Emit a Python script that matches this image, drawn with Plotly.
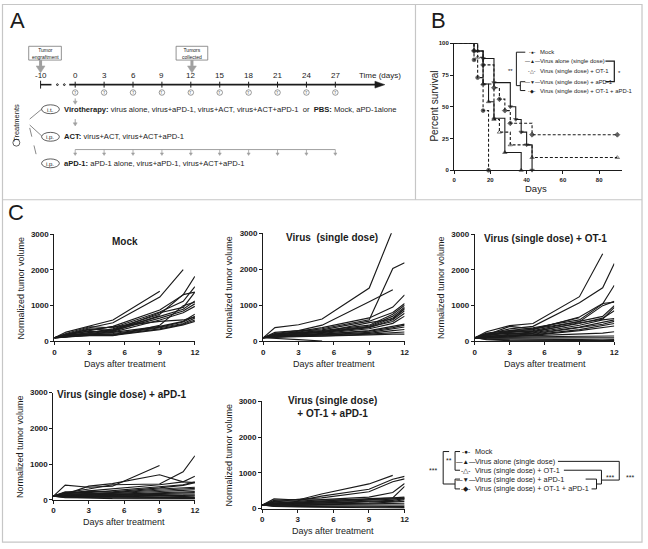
import plotly.graph_objects as go

W, H = 648, 549
FONT = "Liberation Sans, Arial, Helvetica, sans-serif"
INK = "#1b1b1b"
GREY = "#a0a0a0"
FRAME = "#c6c6c6"

# ---- panel A: treatment schedule
timeline_days = [-10, 0, 3, 6, 9, 12, 15, 18, 21, 24, 27]
apd1_dose_days = [0, 3, 6, 9, 12, 15, 18, 21, 24, 27]

# ---- panel B: survival (Kaplan-Meier steps)
group_names = [
    "Mock",
    "Virus alone (single dose)",
    "Virus (single dose) + OT-1",
    "Virus (single dose) + aPD-1",
    "Virus (single dose) + OT-1 + aPD-1",
]
mock_days = [0, 11, 13, 16, 19]
mock_surv = [100, 87, 73, 47, 0]
virus_days = [0, 13, 16, 19, 22, 28, 37]
virus_surv = [100, 94, 68, 54, 41, 14, 0]
ot1_days = [0, 13, 16, 22, 25, 31, 43, 90]
ot1_surv = [100, 89, 68, 40, 30, 20, 10, 10]
apd1_days = [0, 11, 16, 22, 31, 34, 37, 40, 43]
apd1_surv = [100, 94, 88, 69, 50, 40, 30, 20, 0]
combo_days = [0, 11, 16, 22, 25, 28, 31, 43, 90]
combo_surv = [100, 94, 83, 65, 56, 47, 37, 28, 28]

# ---- panel C: normalized tumour volume per mouse
tumor_days = [0, 1, 3, 5, 9, 11, 12]
mock_vol = [
    [100, 260, 430, 600, 1400, None, None],
    [100, 200, 380, 520, 1240, 2010, None],
    [100, 180, 300, 420, 880, 1300, 1820],
    [100, 220, 410, 380, 820, 1120, 1530],
    [100, 150, 260, 350, 760, 1310, 1380],
    [100, 170, 240, 330, 700, 900, 1130],
    [100, 160, 220, 300, 650, 850, 1050],
    [100, 190, 280, 260, 600, 800, 980],
    [100, 140, 200, 250, 420, 560, 760],
    [100, 130, 180, 220, 400, 540, 700],
    [100, 160, 210, 200, 380, 500, 650],
    [100, 150, 190, 180, 350, 480, 600],
    [100, 120, 170, 170, 330, 460, 560],
    [100, 140, 160, 160, 450, 1000, 1100],
    [100, 180, 350, 300, 800, 950, 1380],
    [100, 130, 200, 280, 720, None, None],
    [100, 200, 330, 400, 560, 600, 680],
]
virus_vol = [
    [100, 380, 460, 620, 1480, 3100, None],
    [100, 250, 300, 450, 1100, 1430, None],
    [100, 200, 260, 350, 600, 2020, 2180],
    [100, 180, 280, 380, 650, 950, 1290],
    [100, 220, 300, 320, 560, 800, 1050],
    [100, 160, 250, 300, 450, 750, 1000],
    [100, 170, 230, 280, 420, 700, 950],
    [100, 150, 200, 260, 400, 650, 900],
    [100, 190, 240, 250, 380, 600, 850],
    [100, 140, 210, 240, 400, 550, 780],
    [100, 130, 180, 220, 350, 500, 700],
    [100, 160, 190, 200, 300, 420, 480],
    [100, 120, 170, 190, 280, 380, 450],
    [100, 110, 160, 180, 250, 350, 400],
    [100, 140, 150, 170, 220, 300, 330],
    [100, 130, 140, 150, 200, 250, 260],
    [100, 120, 130, 140, 180, 200, 200],
    [100, 90, 50, 10, None, None, None],
    [100, 200, 230, 260, 520, 620, 920],
]
ot1_vol = [
    [100, 270, 440, 500, 1250, 2450, None],
    [100, 200, 350, 420, 1080, 1500, 2180],
    [100, 230, 300, 380, 600, 1050, 1570],
    [100, 180, 420, 350, 550, 1000, 1120],
    [100, 160, 300, 330, 680, 1060, 1100],
    [100, 210, 250, 300, 560, 700, 1000],
    [100, 150, 280, 280, 500, 650, 860],
    [100, 190, 220, 260, 520, 620, 950],
    [100, 140, 200, 240, 450, 600, 640],
    [100, 170, 230, 220, 400, 520, 600],
    [100, 130, 180, 200, 380, 480, 560],
    [100, 120, 160, 180, 330, 450, 500],
    [100, 150, 170, 170, 300, 400, 430],
    [100, 110, 140, 150, 200, 230, 270],
    [100, 100, 120, 130, 140, 150, 150],
    [100, 90, 100, 100, 90, 100, 100],
    [100, 80, 70, 60, 40, 40, 50],
    [100, 60, 40, 30, 20, 20, 20],
    [100, 50, 20, 10, 5, 5, 5],
    [100, 200, 250, 350, 660, None, None],
]
apd1_vol = [
    [100, 410, 350, 380, 960, None, None],
    [100, 200, 300, 420, 440, 780, 1230],
    [100, 150, 380, 450, 700, 500, 480],
    [100, 180, 250, 300, 420, 500, 660],
    [100, 220, 200, 260, 380, 420, 500],
    [100, 160, 240, 220, 330, 400, 480],
    [100, 140, 180, 200, 300, 330, 350],
    [100, 170, 160, 190, 260, 300, 320],
    [100, 130, 150, 170, 230, 260, 280],
    [100, 120, 140, 150, 200, 220, 230],
    [100, 110, 120, 140, 180, 190, 200],
    [100, 150, 130, 120, 150, 160, 160],
    [100, 100, 110, 110, 120, 120, 130],
    [100, 90, 100, 90, 80, 90, 100],
    [100, 80, 80, 70, 60, 60, 60],
    [100, 70, 60, 50, 40, 40, 40],
    [100, 60, 50, 30, 20, 20, 20],
    [100, 200, 180, 160, 140, 90, 50],
]
combo_vol = [
    [100, 270, 240, 410, 690, 930, None],
    [100, 200, 220, 350, 540, 820, 900],
    [100, 180, 260, 300, 470, 750, 830],
    [100, 150, 200, 250, 320, 450, 700],
    [100, 160, 180, 220, 280, 300, 620],
    [100, 230, 250, 240, 260, 300, 320],
    [100, 140, 160, 180, 230, 260, 300],
    [100, 120, 150, 160, 200, 230, 280],
    [100, 130, 140, 150, 180, 200, 250],
    [100, 110, 120, 130, 150, 170, 200],
    [100, 100, 110, 110, 130, 140, 150],
    [100, 90, 90, 100, 110, 100, 100],
    [100, 80, 80, 70, 60, 60, 60],
    [100, 70, 60, 50, 40, 30, 30],
    [100, 60, 50, 40, 30, 20, 10],
    [100, 150, 170, 200, 250, 270, 290],
]
panel_titles = [
    "Mock",
    "Virus  (single dose)",
    "Virus (single dose) + OT-1",
    "Virus (single dose) + aPD-1",
    "Virus (single dose)<br>+ OT-1 + aPD-1",
]


# pixel -> paper helpers
def fx(x):
    return x / W


def fy(y):
    return 1 - y / H


shapes = []
annotations = []


def note(x, y, text, size, xa="center", ya="middle", bold=False, angle=0, color=INK):
    annotations.append(dict(
        x=fx(x), y=fy(y), xref="paper", yref="paper", text=text, showarrow=False,
        xanchor=xa, yanchor=ya, textangle=angle, borderpad=0,
        font=dict(family=FONT, size=size, color=color, weight="bold" if bold else "normal"),
    ))


def seg(x0, y0, x1, y1, color=INK, width=1, dash="solid"):
    shapes.append(dict(type="line", xref="paper", yref="paper",
                       x0=fx(x0), y0=fy(y0), x1=fx(x1), y1=fy(y1),
                       line=dict(color=color, width=width, dash=dash)))


def poly(points, color=INK, width=1, fill=None, closed=False):
    d = "M" + " L".join(f"{fx(x):.5f},{fy(y):.5f}" for x, y in points)
    if closed:
        d += " Z"
    shapes.append(dict(type="path", xref="paper", yref="paper", path=d,
                       line=dict(color=color, width=width),
                       fillcolor=fill if fill else "rgba(0,0,0,0)"))


def oval(x0, y0, x1, y1, color=INK, width=0.8):
    shapes.append(dict(type="circle", xref="paper", yref="paper",
                       x0=fx(x0), y0=fy(y0), x1=fx(x1), y1=fy(y1),
                       line=dict(color=color, width=width)))


def box(x0, y0, x1, y1, color="#777", width=0.8):
    shapes.append(dict(type="rect", xref="paper", yref="paper",
                       x0=fx(x0), y0=fy(y0), x1=fx(x1), y1=fy(y1),
                       line=dict(color=color, width=width)))


def down_arrow(x, y0, y1, color=GREY, width=1, head=2):
    seg(x, y0, x, y1 - head, color, width)
    poly([(x - head, y1 - head * 1.6), (x + head, y1 - head * 1.6), (x, y1)],
         color=color, width=0.5, fill=color, closed=True)


# ---------------- frames
poly([(0.5, 0.5), (647, 0.5), (647, 547), (0.5, 547)], color=FRAME, width=1.2, closed=True)
seg(0, 199, 647, 199, FRAME, 1.2)
seg(418, 0, 418, 199, FRAME, 1.2)

note(7, 17, "A", 22, xa="left")
note(433, 17, "B", 22, xa="left")
note(5, 212, "C", 22, xa="left")

# ---------------- panel A drawing
TL_Y = 82
TL_X0, TL_STEP = 74, 9.74


def tl_x(day):
    return 39 if day < 0 else TL_X0 + day * TL_STEP


seg(39, TL_Y, 50, TL_Y, INK, 1.6)
for dx in (56, 63):
    oval(dx - 0.9, TL_Y - 0.9, dx + 0.9, TL_Y + 0.9, INK, 1)
seg(68, TL_Y, 378, TL_Y, INK, 1.6)
poly([(377, TL_Y - 3.5), (387, TL_Y), (377, TL_Y + 3.5)], INK, 0.5, INK, True)
note(404, 73, "Time (days)", 8, xa="right")
for d in timeline_days:
    x = tl_x(d)
    if d < 0:
        seg(x, TL_Y - 4, x, TL_Y + 4, INK, 1)
    else:
        seg(x, TL_Y - 3, x, TL_Y + 3, INK, 1)
        oval(x - 2.8, 87.2, x + 2.8, 92.8, "#555", 0.6)
        note(x, 90.3, "T", 4, color="#555")
    note(x, 73, str(d), 8)

box(27, 43, 60, 57)
note(43.5, 50, "Tumor<br>engraftment", 5)
poly([(39, 57), (39, 63)], GREY, 3)
poly([(34.5, 63), (43.5, 63), (39, 70)], GREY, 0.5, GREY, True)
box(176, 43, 208, 57)
note(192, 50, "Tumors<br>collected", 5)
poly([(192, 57), (192, 63)], GREY, 3)
poly([(187.5, 63), (196.5, 63), (192, 70)], GREY, 0.5, GREY, True)

note(14, 121, "Treatments", 7.5, angle=-90)
oval(11, 137.5, 18, 144.5, INK, 0.7)
seg(28, 117, 40, 107, "#555", 0.7)
seg(28, 123, 40, 134, "#555", 0.7)
seg(28, 126, 36, 159, "#555", 0.7, "dash")

rows = [
    (107, "i.t.", "<b>Virotherapy:</b> virus alone, virus+aPD-1, virus+ACT, virus+ACT+aPD-1  or  <b>PBS:</b> Mock, aPD-1alone"),
    (135, "i.p.", "<b>ACT:</b> virus+ACT, virus+ACT+aPD-1"),
    (162, "i.p.", "<b>aPD-1:</b> aPD-1 alone, virus+aPD-1, virus+ACT+aPD-1"),
]
for ry, tag, txt in rows:
    oval(40, ry - 4.5, 58, ry + 4.5, INK, 0.7)
    note(49, ry + 0.3, tag, 6)
    note(62, ry, txt, 7.6, xa="left")

down_arrow(tl_x(0), 96, 102)
down_arrow(tl_x(0), 117, 124)
seg(tl_x(0), 148, tl_x(27), 148, GREY, 1)
for d in apd1_dose_days:
    down_arrow(tl_x(d), 148, 154, GREY, 0.8, 1.6)

# ---------------- panel B
fig = go.Figure()

surv_sets = [
    (mock_days, mock_surv, "circle", "dash"),
    (virus_days, virus_surv, "triangle-up", "solid"),
    (ot1_days, ot1_surv, "triangle-up-open", "dash"),
    (apd1_days, apd1_surv, "triangle-down", "solid"),
    (combo_days, combo_surv, "diamond", "dash"),
]
for (dx, sy, sym, dash), name in zip(surv_sets, group_names):
    fig.add_trace(go.Scatter(
        x=dx, y=sy, name=name, mode="lines+markers", line_shape="hv",
        line=dict(color=INK, width=1.1, dash="3px,2px" if dash == "dash" else "solid"),
        marker=dict(symbol=sym, size=[0] + [3.8] * (len(dx) - 1), color=INK,
                    line=dict(color=INK, width=0.8)),
        cliponaxis=False, showlegend=False, xaxis="x", yaxis="y",
    ))

axis_style = dict(showline=True, linecolor=INK, linewidth=1.2, ticks="outside",
                  ticklen=3, tickwidth=1, tickcolor=INK, showgrid=False, zeroline=False)

layout_axes = dict(
    xaxis=dict(domain=[fx(457), fx(627)], range=[0, 92.7], anchor="y",
               tickvals=[0, 20, 40, 60, 80],
               tickfont=dict(family=FONT, size=6, color=INK, weight="bold"), **axis_style),
    yaxis=dict(domain=[fy(169), fy(40)], range=[0, 100], anchor="x",
               tickvals=[0, 25, 50, 75, 100],
               tickfont=dict(family=FONT, size=6, color=INK, weight="bold"), **axis_style),
)
note(437, 104, "Percent survival", 10, angle=-90)
note(540, 188, "Days", 9.5)

leg_b_y = [49, 58, 68, 79, 88]
glyphs = ["-●-", "—▲—", "-△-", "—▼—", "-◆-"]
for yy, g, name in zip(leg_b_y, glyphs, group_names):
    note(536, yy, g, 5)
    note(543, yy, name, 5.9, xa="left")
poly([(529, 49), (520, 49), (520, 83), (524, 83)], INK, 1)
poly([(529, 79), (524, 79), (524, 88), (529, 88)], INK, 1)
note(514, 68, "**", 6)
poly([(610, 58), (619, 58), (619, 79), (610, 79)], INK, 1.2)
note(624, 70, "*", 6)

# ---------------- panel C
c_boxes = [(53, 195, 234, 343), (264, 407, 233, 343), (478, 619, 234, 343),
           (52, 195, 395, 504), (263, 407, 404, 513)]
c_title_pos = [(124, 241), (334, 237), (549, 238), (121, 397), (334, 410)]
c_sets = [mock_vol, virus_vol, ot1_vol, apd1_vol, combo_vol]

for i, (vols, (x0, x1, ytop, ybot), (tx, ty), title) in enumerate(
        zip(c_sets, c_boxes, c_title_pos, panel_titles), start=2):
    for mouse in vols:
        fig.add_trace(go.Scatter(
            x=tumor_days, y=mouse, mode="lines", line=dict(color=INK, width=1.15),
            showlegend=False, xaxis=f"x{i}", yaxis=f"y{i}", hoverinfo="skip",
        ))
    layout_axes[f"xaxis{i}"] = dict(
        domain=[fx(x0), fx(x1)], range=[0, 12], anchor=f"y{i}", tickvals=[0, 3, 6, 9, 12],
        tickfont=dict(family=FONT, size=8, color=INK, weight="bold"), **axis_style)
    layout_axes[f"yaxis{i}"] = dict(
        domain=[fy(ybot), fy(ytop)], range=[0, 3000], anchor=f"x{i}",
        tickvals=[0, 1000, 2000, 3000],
        tickfont=dict(family=FONT, size=8, color=INK, weight="bold"), **axis_style)
    note(tx, ty, title, 10, bold=True)
    note((x0 + x1) / 2, ybot + 23, "Days after treatment", 9)
    note(x0 - 34, (ytop + ybot) / 2, "Normalized tumor volume", 9, angle=-90)

leg_c_y = [455, 465, 474, 483, 493]
for yy, g, name in zip(leg_c_y, glyphs, group_names):
    note(469, yy, g, 6.5)
    note(477, yy, name, 7.3, xa="left")
note(436, 474, "***", 7)
poly([(452, 455), (446, 455), (446, 488), (458, 488)], INK, 1)
note(452, 464, "**", 7)
poly([(463, 455), (458, 455), (458, 474), (463, 474)], INK, 1)
poly([(463, 483), (458, 483), (458, 493), (463, 493)], INK, 1)
poly([(590, 483), (601, 483), (601, 493), (596, 493)], INK, 1)
poly([(568, 474), (606, 474), (606, 488), (601, 488)], INK, 1)
poly([(562, 465), (624, 465), (624, 484), (606, 484)], INK, 1)
note(615, 481, "***", 7)
note(635, 481, "***", 7)

fig.update_layout(
    width=W, height=H, margin=dict(l=0, r=0, t=0, b=0),
    paper_bgcolor="white", plot_bgcolor="white",
    font=dict(family=FONT, color=INK),
    shapes=shapes, annotations=annotations, showlegend=False,
    **layout_axes,
)

fig.write_html("out.html", config={"displayModeBar": False},
               post_script="document.body.style.margin='0px';")
